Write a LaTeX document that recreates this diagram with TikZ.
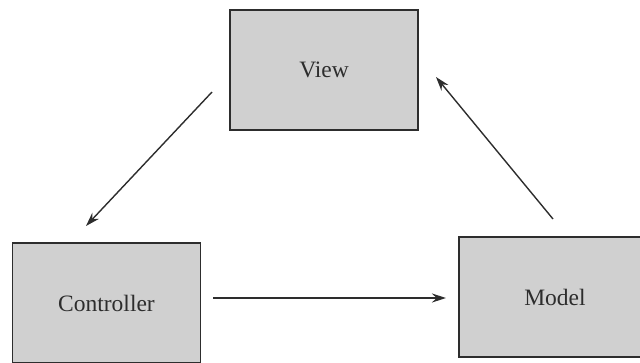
\documentclass[tikz,border=0pt]{standalone}
\usepackage{fontspec}
\setmainfont{Liberation Serif}
\usetikzlibrary{arrows.meta}
\definecolor{boxfill}{RGB}{208,208,208}
\definecolor{ink}{RGB}{45,45,45}
\begin{document}
\begin{tikzpicture}[x=1pt,y=-1pt,
  mvcbox/.style={draw=ink,line width=1.6pt,fill=boxfill,minimum width=188pt,minimum height=120pt,inner sep=0pt,font=\fontsize{23.5}{27}\selectfont,text=ink},
  link/.style={draw=ink,line width=1.4pt,-{Stealth[length=14pt,width=9pt]}}]
\useasboundingbox (0,0) rectangle (640,362);
\node[mvcbox] (view) at (324,70) {View};
\node[mvcbox] (ctrl) at (106.5,303) {Controller};
\node[mvcbox,minimum width=192pt] (model) at (555,297) {Model};
\coordinate (a1s) at (212,92);
\coordinate (a1e) at (86,226);
\coordinate (a2s) at (553,219);
\coordinate (a2e) at (436,77);
\coordinate (a3s) at (213,298);
\coordinate (a3e) at (446,298);
\draw[link] (a1s) -- (a1e);
\draw[link] (a2s) -- (a2e);
\draw[link] (a3s) -- (a3e);
\end{tikzpicture}
\end{document}
